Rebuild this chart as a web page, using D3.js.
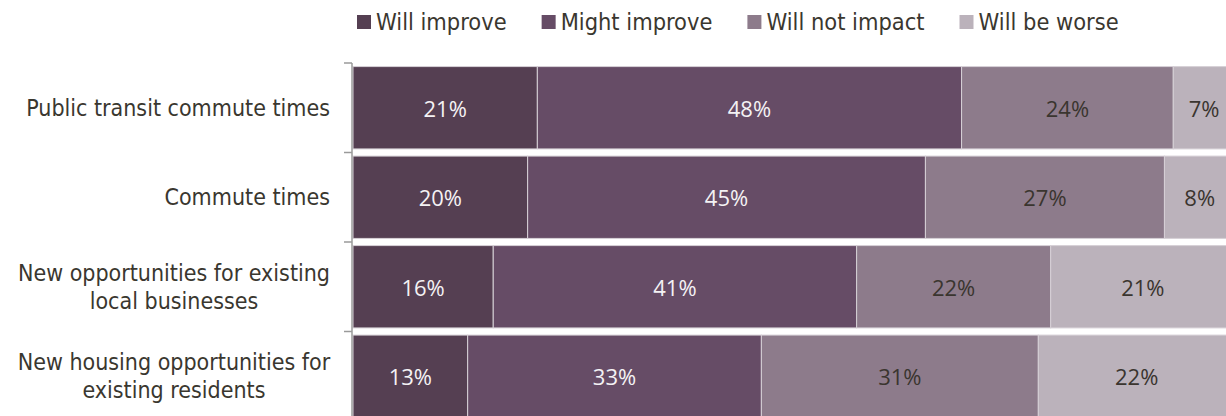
<!DOCTYPE html>
<html>
<head>
<meta charset="utf-8">
<script src="https://cdn.jsdelivr.net/npm/d3@7"></script>
<style>
  html, body { margin: 0; padding: 0; background: #ffffff; }
  svg { display: block; }
</style>
</head>
<body>
<svg id="chart" width="1226" height="416"></svg>
<script>
// ---- data ----
const categories = [
  "Public transit commute times",
  "Commute times",
  "New opportunities for existing\nlocal businesses",
  "New housing opportunities for\nexisting residents"
];
const seriesNames = ["Will improve", "Might improve", "Will not impact", "Will be worse"];
const willImprove   = [20.9, 19.8, 15.9, 13.0];
const mightImprove  = [48.1, 45.1, 41.2, 33.3];
const willNotImpact = [24.0, 27.1, 22.0, 31.4];
const willBeWorse   = [7.0, 8.0, 20.9, 22.3];
const seriesColors = ["#553f52", "#664c66", "#8d7b8b", "#bbb2bb"];
const labelColors  = ["#f4f2f4", "#f4f2f4", "#3a352f", "#3a352f"];

const seriesValues = [willImprove, mightImprove, willNotImpact, willBeWorse];

// ---- layout ----
const svg = d3.select("#chart");
const plotLeft = 353, plotRight = 1235, plotTop = 63, plotBottom = 421;
const catFont = "'DejaVu Sans Condensed', 'DejaVu Sans', sans-serif";
const valFont = "'Open Sans', 'Noto Sans', sans-serif";
const textColor = "#3a372f";

const x = d3.scaleLinear().domain([0, 100]).range([plotLeft, plotRight]);
const y = d3.scaleBand().domain(categories).range([plotTop, plotBottom])
  .paddingInner(0.08).paddingOuter(0.04);

const rows = categories.map((c, i) => {
  let acc = 0;
  return seriesNames.map((s, j) => {
    const v = seriesValues[j][i];
    const seg = { cat: c, series: s, j, v, x0: acc, x1: acc + v };
    acc += v;
    return seg;
  });
});

const g = svg.append("g");

// bars
rows.forEach(row => {
  g.selectAll(null).data(row).enter().append("rect")
    .attr("x", d => x(d.x0))
    .attr("y", d => y(d.cat))
    .attr("width", d => x(d.x1) - x(d.x0))
    .attr("height", y.bandwidth())
    .attr("fill", d => seriesColors[d.j])
    .attr("stroke", "#d6d0d6")
    .attr("stroke-width", 1);

  g.selectAll(null).data(row).enter().append("text")
    .attr("x", d => (x(d.x0) + x(d.x1)) / 2)
    .attr("y", d => y(d.cat) + y.bandwidth() / 2)
    .attr("text-anchor", "middle")
    .attr("dominant-baseline", "central")
    .attr("font-family", valFont)
    .attr("font-size", "22px")
    .attr("fill", d => labelColors[d.j])
    .text(d => d3.format(".0f")(d.v) + "%");
});

// axis line + ticks at band boundaries
const step = y.step();
const bounds = [plotTop].concat(categories.map(c => y(c) - (step - y.bandwidth()) / 2 + step));
g.append("line")
  .attr("x1", plotLeft - 1).attr("x2", plotLeft - 1)
  .attr("y1", plotTop).attr("y2", plotBottom)
  .attr("stroke", "#9a9a9a").attr("stroke-width", 1.5);
g.selectAll(null).data(bounds).enter().append("line")
  .attr("x1", plotLeft - 9).attr("x2", plotLeft - 1)
  .attr("y1", d => d).attr("y2", d => d)
  .attr("stroke", "#9a9a9a").attr("stroke-width", 1.5);

// category labels
const labelRight = 330;
categories.forEach(c => {
  const lines = c.split("\n");
  const t = g.append("text")
    .attr("font-family", catFont)
    .attr("font-size", "23px")
    .attr("fill", textColor)
    .attr("text-anchor", "middle")
    .attr("dominant-baseline", "central");
  const spans = lines.map(l => t.append("tspan").text(l));
  const maxW = d3.max(spans, s => s.node().getComputedTextLength());
  const cx = labelRight - maxW / 2;
  const cy = y(c) + y.bandwidth() / 2;
  const lh = 28;
  spans.forEach((s, k) => {
    s.attr("x", cx).attr("y", cy + (k - (lines.length - 1) / 2) * lh);
  });
});

// legend
const legend = svg.append("g");
let lx = 357;
const ly = 22;
seriesNames.forEach((s, j) => {
  legend.append("rect")
    .attr("x", lx).attr("y", ly - 7)
    .attr("width", 14).attr("height", 14)
    .attr("fill", seriesColors[j]);
  const t = legend.append("text")
    .attr("x", lx + 19).attr("y", ly)
    .attr("dominant-baseline", "central")
    .attr("font-family", catFont)
    .attr("font-size", "23.4px")
    .attr("fill", textColor)
    .text(s);
  lx = lx + 19 + t.node().getComputedTextLength() + 35;
});
</script>
</body>
</html>
